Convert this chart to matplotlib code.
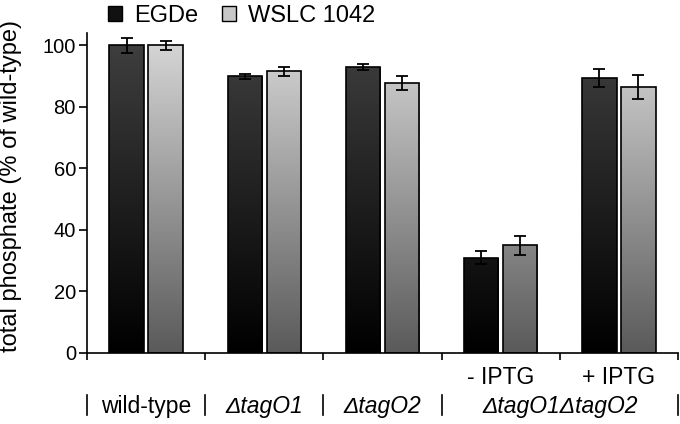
import matplotlib
matplotlib.use("Agg")
import matplotlib.pyplot as plt
import numpy as np
from matplotlib.colors import LinearSegmentedColormap
from matplotlib.patches import Patch

plt.rcParams['font.family'] = ['Liberation Sans', 'DejaVu Sans']

# data
groups = ["wild-type", "ΔtagO1", "ΔtagO2", "- IPTG", "+ IPTG"]
series = ["EGDe", "WSLC 1042"]
egde = [100.0, 90.0, 93.0, 31.0, 89.3]
egde_err = [2.5, 0.8, 1.0, 2.0, 3.0]
wslc = [100.0, 91.5, 87.8, 35.0, 86.5]
wslc_err = [1.5, 1.5, 2.2, 3.0, 4.0]

cmaps = [
    LinearSegmentedColormap.from_list("egde", ["#000000", "#3e3e3e"]),
    LinearSegmentedColormap.from_list("wslc", ["#5a5a5a", "#d4d4d4"]),
]
legend_colors = ["#111111", "#c8c8c8"]

fig = plt.figure(figsize=(6.8, 4.24), dpi=100)
ax = fig.add_axes([87 / 680, 71 / 424, (678 - 87) / 680, (353 - 33) / 424])

x = np.arange(len(groups)) + 0.5
width = 0.29
offsets = [-0.165, 0.165]
grad = np.linspace(0, 1, 256).reshape(-1, 1)

for vals, errs, off, cmap in zip([egde, wslc], [egde_err, wslc_err], offsets, cmaps):
    bars = ax.bar(x + off, vals, width=width, facecolor="none",
                  edgecolor="black", linewidth=1.2, zorder=3)
    for b in bars:
        im = ax.imshow(grad, extent=[b.get_x(), b.get_x() + b.get_width(), 0, 100],
                       origin="lower", aspect="auto", cmap=cmap, zorder=2)
        im.set_clip_path(b)
    ax.errorbar(x + off, vals, yerr=errs, fmt="none", ecolor="black",
                elinewidth=1.3, capsize=4.5, capthick=1.3, zorder=4)

ax.set_xlim(0, len(groups))
ax.set_ylim(0, 104)
ax.set_yticks([0, 20, 40, 60, 80, 100])
ax.set_xticks(np.arange(len(groups) + 1))
ax.set_xticklabels([])
ax.tick_params(axis="y", labelsize=14.5, length=6, width=1.2, direction="out", pad=2)
ax.tick_params(axis="x", length=5, width=1.2, direction="out")
for s in ["top", "right"]:
    ax.spines[s].set_visible(False)
for s in ["left", "bottom"]:
    ax.spines[s].set_linewidth(1.2)
ax.set_ylabel("total phosphate (% of wild-type)", fontsize=17)
ax.yaxis.set_label_coords(-0.11, 0.522)

# category labels below the axis
trans = ax.get_xaxis_transform()
ax.text(x[3], -0.078, groups[3], transform=trans, ha="center", va="center", fontsize=16.5)
ax.text(x[4], -0.078, groups[4], transform=trans, ha="center", va="center", fontsize=16.5)
row2 = [(x[0], "wild-type", "normal"), (x[1], "ΔtagO1", "italic"),
        (x[2], "ΔtagO2", "italic"), (4.0, "ΔtagO1ΔtagO2", "italic")]
for xp, lab, st in row2:
    ax.text(xp, -0.168, lab, transform=trans, ha="center", va="center",
            fontsize=16.5, style=st)
for xs in [0, 1, 2, 3, 5]:
    ax.plot([xs, xs], [-0.13, -0.195], transform=trans, color="black",
            linewidth=1.2, clip_on=False)

handles = [Patch(facecolor=c, edgecolor="black", linewidth=1.0) for c in legend_colors]
fig.legend(handles, series, loc="upper left", bbox_to_anchor=(108 / 680, 0.988),
           ncol=2, frameon=False, fontsize=17, handlelength=0.6, handleheight=0.6,
           handletextpad=0.5, columnspacing=1.0, borderpad=0, borderaxespad=0)

fig.savefig("out.png", dpi=100)
